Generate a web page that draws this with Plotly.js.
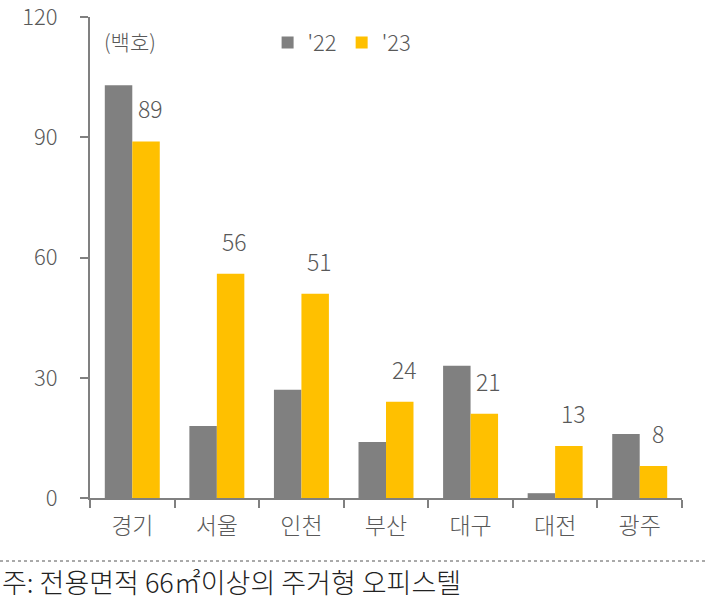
<!DOCTYPE html>
<html>
<head>
<meta charset="utf-8">
<script src="https://cdn.plot.ly/plotly-3.0.1.min.js"></script>
<style>html,body{margin:0;padding:0;background:#fff;}#chart{width:705px;height:602px;}</style>
</head>
<body>
<div id="chart"></div>
<script>
const categories = ['경기', '서울', '인천', '부산', '대구', '대전', '광주'];
const values22 = [103, 18, 27, 14, 33, 1.2, 16];
const values23 = [89, 56, 51, 24, 21, 13, 8];
const seriesNames = ["'22", "'23"];
const yTickVals = [0, 30, 60, 90, 120];
const unitLabel = '(백호)';
const footnote = '주: 전용면적 66㎡이상의 주거형 오피스텔';

const FONT = '"Noto Sans CJK KR", "Noto Sans", sans-serif';
const textColor = '#595959';
const axisColor = '#808080';
const PH = 481; // plot height in px

const traces = [
  {type: 'bar', name: seriesNames[0], x: categories, y: values22, marker: {color: '#808080'}, hoverinfo: 'none'},
  {type: 'bar', name: seriesNames[1], x: categories, y: values23, marker: {color: '#FFC000'}, hoverinfo: 'none'}
];

const annotations = categories.map((c, i) => ({
  x: c, y: values23[i], xref: 'x', yref: 'y',
  text: String(values23[i]), showarrow: false,
  xanchor: 'center', yanchor: 'bottom', xshift: 18, yshift: 14,
  font: {family: FONT, size: 23, color: textColor, weight: 300}
}));
annotations.push({
  x: 0.02, y: (498-41)/PH, xref: 'paper', yref: 'paper', xanchor: 'left', yanchor: 'middle',
  text: unitLabel, showarrow: false, font: {family: FONT, size: 21, color: textColor, weight: 300}
});
annotations.push({
  x: -90/592, y: -(581-498)/PH, xref: 'paper', yref: 'paper', xanchor: 'left', yanchor: 'middle',
  text: footnote, showarrow: false, font: {family: FONT, size: 27, color: '#222222', weight: 300}
});

const layout = {
  width: 705, height: 602,
  margin: {l: 90, r: 23, t: 17, b: 104},
  paper_bgcolor: '#ffffff', plot_bgcolor: '#ffffff',
  barmode: 'group', bargap: 0.35, bargroupgap: 0,
  showlegend: true,
  legend: {orientation: 'h', x: 0.3, y: 0.99, xanchor: 'left', yanchor: 'top',
    font: {family: FONT, size: 22, color: textColor, weight: 300}, itemwidth: 30, tracegroupgap: 0},
  xaxis: {
    type: 'category', showline: true, linecolor: axisColor, linewidth: 2,
    ticks: 'outside', tickson: 'boundaries', ticklen: 8, tickcolor: axisColor, tickwidth: 2,
    ticklabelstandoff: 6,
    tickfont: {family: FONT, size: 23, color: textColor, weight: 300}, showgrid: false, zeroline: false, fixedrange: true
  },
  yaxis: {
    range: [0, 120.05], tickmode: 'array', tickvals: yTickVals, showline: true, linecolor: axisColor, linewidth: 2,
    ticks: 'outside', ticklen: 8, tickcolor: axisColor, tickwidth: 2,
    ticklabelstandoff: 18, ticklabeloverflow: 'allow',
    tickfont: {family: FONT, size: 22, color: textColor, weight: 300}, showgrid: false, zeroline: false, fixedrange: true
  },
  annotations: annotations,
  shapes: [{
    type: 'line', xref: 'paper', yref: 'paper',
    x0: -90/592, x1: 1 + 23/592, y0: -(561-498)/PH, y1: -(561-498)/PH,
    line: {color: '#555555', width: 1, dash: 'dot'}
  }]
};

Plotly.newPlot('chart', traces, layout, {displayModeBar: false, staticPlot: true});
</script>
</body>
</html>
